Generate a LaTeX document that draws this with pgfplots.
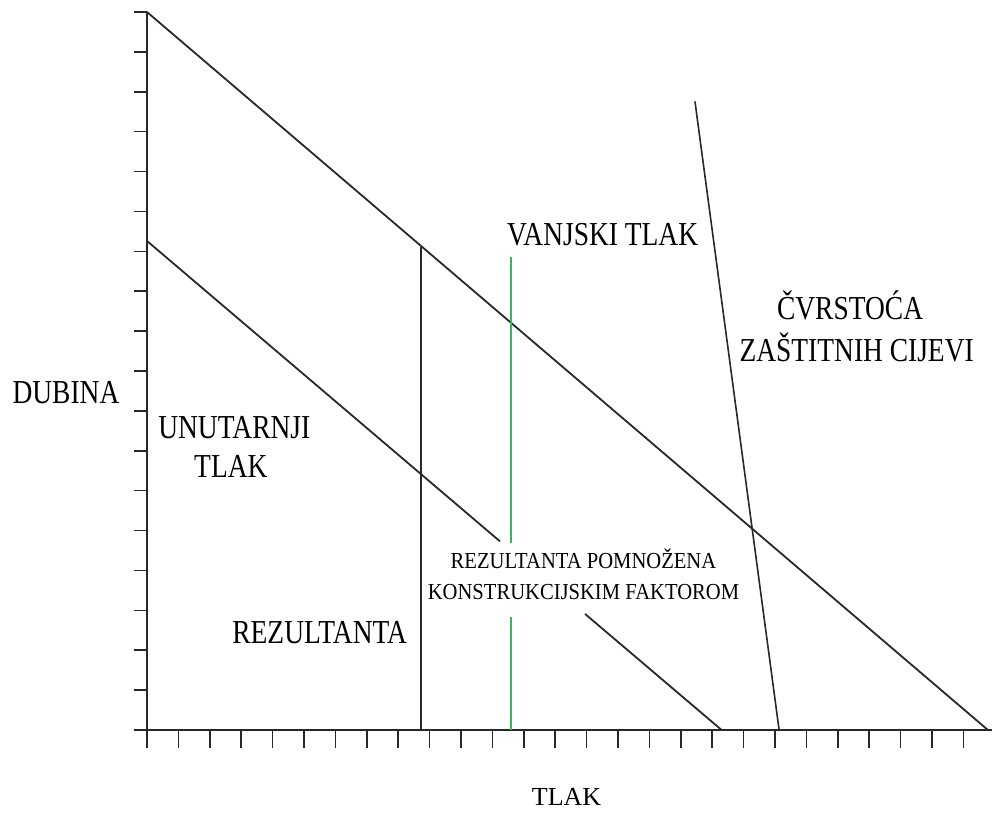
\documentclass[border=0pt]{standalone}
\usepackage{pgfplots}
\pgfplotsset{compat=1.18}
\usepackage{fontspec}
\setmainfont{Liberation Serif}
\newfontfamily\bigf{Liberation Serif}[FakeStretch=0.82]
\newfontfamily\smallf{Liberation Serif}[FakeStretch=0.9]
\definecolor{lin}{RGB}{40,40,40}
\definecolor{grn}{RGB}{60,180,90}
\newcommand{\B}{\bigf\fontsize{16.75}{20}\selectfont}
\newcommand{\Sm}{\smallf\fontsize{11.45}{14}\selectfont}
\begin{document}
\begin{tikzpicture}
\useasboundingbox (-73.5pt,-43pt) rectangle (423.5pt,365pt);
\begin{axis}[
  scale only axis,
  width=422.5pt, height=359pt,
  xmin=0, xmax=26.91, ymin=0, ymax=18,
  axis lines=left,
  axis line style={-, lin, line width=1pt},
  xtick={0,...,26}, ytick={0,...,18},
  xticklabels={}, yticklabels={},
  tick align=outside,
  major tick length=6.5pt,
  x tick style={/pgfplots/major tick length=9pt},
  tick style={lin, line width=0.8pt},
  clip=false,
]
% upper diagonal (vanjski tlak)
\addplot[lin, line width=0.9pt] coordinates {(0,18) (26.78,0)};
% lower diagonal (unutarnji tlak), with gap for label
\addplot[lin, line width=0.9pt] coordinates {(0,12.26) (11.24,4.73)};
\addplot[lin, line width=0.9pt] coordinates {(13.95,2.91) (18.3,0)};
% rezultanta
\addplot[lin, line width=0.9pt] coordinates {(8.73,0) (8.73,12.1)};
% green line, with gap
\addplot[grn, line width=0.6pt] coordinates {(11.59,0) (11.59,2.83)};
\addplot[grn, line width=0.6pt] coordinates {(11.59,4.69) (11.59,11.85)};
% cvrstoca
\addplot[lin, line width=0.8pt] coordinates {(17.45,15.76) (20.13,0)};
% labels
\node[anchor=base] at (axis cs:14.51,12.155) {\B VANJSKI TLAK};
\node[anchor=base] at (axis cs:22.39,10.30) {\B ČVRSTOĆA};
\node[anchor=base] at (axis cs:22.60,9.25) {\B ZAŠTITNIH CIJEVI};
\node[anchor=base] at (axis cs:-2.58,8.195) {\B DUBINA};
\node[anchor=base] at (axis cs:2.78,7.32) {\B UNUTARNJI};
\node[anchor=base] at (axis cs:2.67,6.32) {\B TLAK};
\node[anchor=base] at (axis cs:5.50,2.18) {\B REZULTANTA};
\node[anchor=base] at (axis cs:13.90,4.06) {\Sm REZULTANTA POMNOŽENA};
\node[anchor=base] at (axis cs:13.90,3.28) {\Sm KONSTRUKCIJSKIM FAKTOROM};
\node[anchor=base] at (axis cs:13.36,-1.88) {\fontsize{13}{15}\selectfont TLAK};
\end{axis}
\end{tikzpicture}
\end{document}
